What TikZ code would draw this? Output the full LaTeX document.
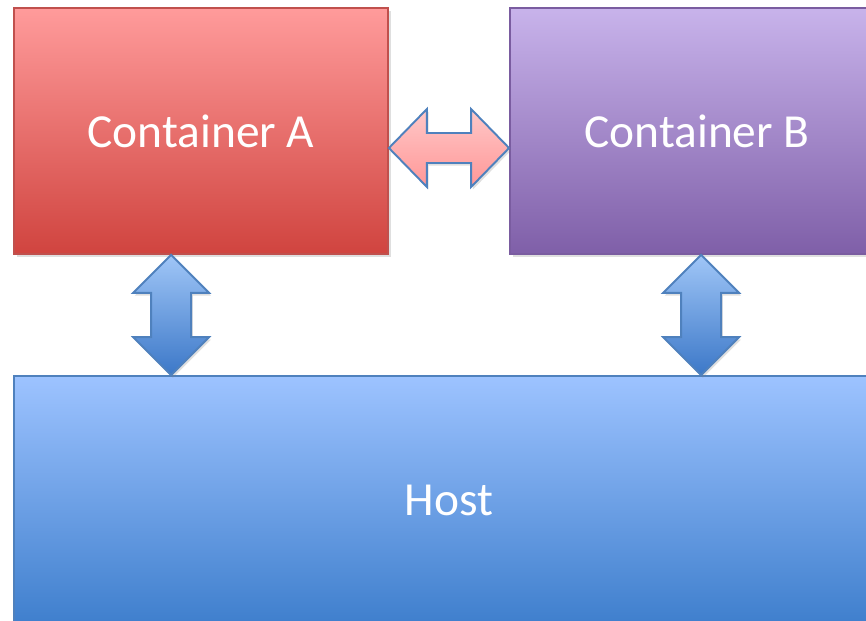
\documentclass[tikz,border=0pt]{standalone}
\usepackage{fontspec}
\setmainfont{Carlito}
\usepackage{tikz}
\usetikzlibrary{calc,shadows}

\definecolor{redtop}{HTML}{FF9B9B}
\definecolor{redbot}{HTML}{D0443F}
\definecolor{redline}{HTML}{C0504D}
\definecolor{purtop}{HTML}{C8B3EB}
\definecolor{purbot}{HTML}{7F5FA8}
\definecolor{purline}{HTML}{7A5CA0}
\definecolor{bluetop}{HTML}{9DC3FF}
\definecolor{bluebot}{HTML}{3F7FCD}
\definecolor{blueline}{HTML}{4F81BD}
\definecolor{pinktop}{HTML}{FFC8C8}
\definecolor{pinkbot}{HTML}{FF9797}
\definecolor{arrtop}{HTML}{A0C6F7}
\definecolor{arrbot}{HTML}{3C78C8}

\begin{document}
\begin{tikzpicture}[
    x=0.02cm, y=-0.02cm,
    box/.style={rectangle, draw, line width=1.1pt, minimum width=7.48cm, minimum height=4.92cm,
      align=center, text=white, font=\fontsize{27}{32}\selectfont,
      drop shadow={opacity=0.25, shadow xshift=1.5pt, shadow yshift=-1.5pt}},
    pinkarrow/.style={draw=blueline, line width=1.1pt, line join=miter, top color=pinktop, bottom color=pinkbot,
      drop shadow={opacity=0.25, shadow xshift=1pt, shadow yshift=-1.5pt}},
    bluearrow/.style={draw=blueline, line width=1.1pt, line join=miter, top color=arrtop, bottom color=arrbot,
      drop shadow={opacity=0.25, shadow xshift=1pt, shadow yshift=-1.5pt}}
]
\path[use as bounding box, clip] (0,0) rectangle (866,621);

\node[box, draw=redline, top color=redtop, bottom color=redbot] (conta) at (201,131) {Container A};
\node[box, draw=purline, top color=purtop, bottom color=purbot] (contb) at (697,131) {Container B};
\node[box, draw=blueline, top color=bluetop, bottom color=bluebot,
  minimum width=17.4cm, minimum height=4.96cm] (host) at (449,500) {Host};

% A <-> B
\draw[pinkarrow] ($(conta.east)+(0,17)$) -- ++(38,-39) -- ++(0,24) -- ($(contb.west)+(-38,2)$)
  -- ++(0,-24) -- ($(contb.west)+(0,17)$) -- ++(-38,39) -- ++(0,-24) -- ($(conta.east)+(38,32)$)
  -- ++(0,24) -- cycle;

% containers <-> host
\foreach \c/\dx/\hx in {conta/158/158, contb/192/688}{
  \draw[bluearrow] ($(\c.south west)+(\dx,0)$) -- ++(38,38) -- ++(-18,0) -- ($(host.north west)+(\hx+20,-38)$)
    -- ++(18,0) -- ($(host.north west)+(\hx,0)$) -- ++(-38,-38) -- ++(18,0) -- ($(\c.south west)+(\dx-20,38)$)
    -- ++(-18,0) -- cycle;
}
\end{tikzpicture}
\end{document}
